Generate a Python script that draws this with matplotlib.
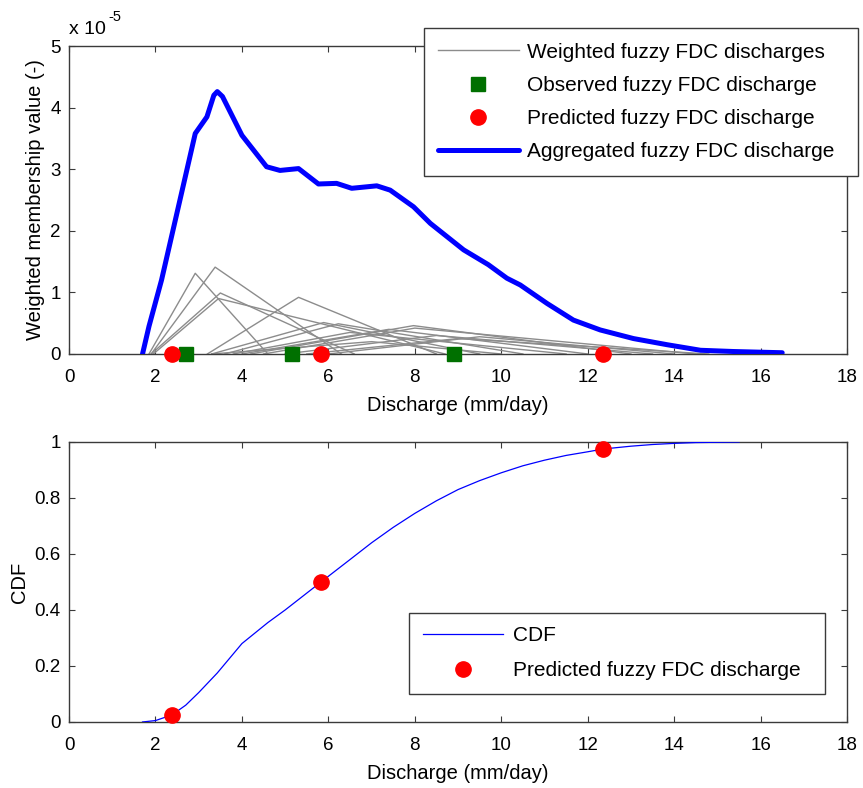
import matplotlib
matplotlib.use("Agg")
import matplotlib.pyplot as plt
from matplotlib.ticker import FuncFormatter, MultipleLocator

plt.rcParams['font.family'] = ['Liberation Sans', 'DejaVu Sans']

# ---- data (membership values in units of 1e-5) ----
agg_x = [1.70, 1.85, 2.14, 2.92, 3.19, 3.35, 3.43, 3.55, 4.00, 4.57, 4.88, 5.31, 5.77, 6.19,
         6.54, 7.12, 7.43, 7.97, 8.36, 9.13, 9.70, 10.13, 10.44, 11.06, 11.67, 12.29,
         13.06, 13.84, 14.61, 15.37, 16.50]
agg_y = [0.00, 0.45, 1.20, 3.58, 3.85, 4.20, 4.26, 4.18, 3.55, 3.04, 2.98, 3.01, 2.76, 2.77,
         2.69, 2.73, 2.66, 2.39, 2.12, 1.69, 1.45, 1.23, 1.12, 0.82, 0.55, 0.39,
         0.25, 0.15, 0.06, 0.04, 0.02]

tri_left = [1.85, 1.90, 1.90, 1.95, 3.20, 3.30, 3.60, 3.80, 4.00, 4.20, 4.50, 5.00, 5.50, 3.30, 6.00]
tri_peak = [2.92, 3.38, 3.50, 3.46, 5.31, 5.89, 6.23, 6.50, 7.40, 7.97, 8.00, 8.50, 9.00, 7.00, 9.50]
tri_right = [4.60, 6.30, 6.60, 8.70, 8.50, 9.50, 10.50, 11.50, 12.00, 13.00, 14.50, 13.50, 14.80, 10.00, 14.00]
tri_height = [1.31, 1.41, 0.99, 0.90, 0.92, 0.51, 0.49, 0.35, 0.40, 0.46, 0.42, 0.30, 0.25, 0.20, 0.28]

obs_x = [2.71, 5.16, 8.91]
pred_x = [2.38, 5.83, 12.36]
pred_cdf = [0.025, 0.50, 0.975]

cdf_x = [1.70, 2.00, 2.38, 2.70, 3.00, 3.43, 4.00, 4.60, 5.00, 5.83, 6.50, 7.00, 7.50,
         8.00, 8.50, 9.00, 9.50, 10.00, 10.50, 11.00, 11.50, 12.00, 12.36, 13.00,
         13.50, 14.00, 14.50, 15.00, 15.50]
cdf_y = [0.000, 0.005, 0.025, 0.060, 0.105, 0.175, 0.280, 0.355, 0.400, 0.500, 0.580,
         0.640, 0.695, 0.745, 0.790, 0.830, 0.862, 0.890, 0.915, 0.935, 0.952, 0.965,
         0.975, 0.985, 0.991, 0.995, 0.998, 0.999, 1.000]

SCALE = 1e-5
TICK_FS = 13.5
LABEL_FS = 14.5
LEG_FS = 15

fig = plt.figure(figsize=(8.63, 7.88), dpi=100)
ax1 = fig.add_axes([0.080, 0.5508, 0.9015, 0.3908])
ax2 = fig.add_axes([0.080, 0.0838, 0.9015, 0.3553])

axis_col = '#3a3a3a'
for ax in (ax1, ax2):
    for s in ax.spines.values():
        s.set_color(axis_col)
        s.set_linewidth(1.0)
    ax.tick_params(direction='in', length=4, width=0.8, color=axis_col,
                   top=True, right=True, labelsize=TICK_FS, pad=6)
    ax.tick_params(axis='x', pad=11)
    ax.set_xlim(0, 18)
    ax.xaxis.set_major_locator(MultipleLocator(2))
    ax.set_xlabel('Discharge (mm/day)', fontsize=LABEL_FS, labelpad=7)

# top panel
for i in range(len(tri_left)):
    ax1.plot([tri_left[i], tri_peak[i], tri_right[i]],
             [0, tri_height[i] * SCALE, 0], color='#8c8c8c', lw=1.0,
             label='Weighted fuzzy FDC discharges' if i == 0 else None, zorder=2)
ax1.plot(obs_x, [0] * len(obs_x), 's', color='#007000', ms=9.5, ls='none',
         label='Observed fuzzy FDC discharge', clip_on=False, zorder=5)
ax1.plot(pred_x, [0] * len(pred_x), 'o', color='#ff0000', ms=11, ls='none',
         label='Predicted fuzzy FDC discharge', clip_on=False, zorder=6)
ax1.plot(agg_x, [v * SCALE for v in agg_y], color='#0000ff', lw=3.6,
         label='Aggregated fuzzy FDC discharge', zorder=4,
         solid_joinstyle='round', solid_capstyle='round')
ax1.set_ylim(0, 5 * SCALE)
ax1.yaxis.set_major_locator(MultipleLocator(1 * SCALE))
ax1.yaxis.set_major_formatter(FuncFormatter(lambda v, p: f'{v / SCALE:.0f}'))
ax1.set_ylabel('Weighted membership value (-)', fontsize=LABEL_FS, labelpad=4)
fig.text(69 / 863, 1 - 34 / 788, 'x 10', fontsize=14, ha='left', va='baseline')
fig.text(108 / 863, 1 - 21 / 788, '-5', fontsize=10.5, ha='left', va='baseline')
leg1 = ax1.legend(loc='upper left', bbox_to_anchor=(0.491, 0.7817, 0.503, 0.1827),
                  bbox_transform=fig.transFigure, mode='expand', borderaxespad=0,
                  fontsize=LEG_FS, frameon=True, fancybox=False, framealpha=1,
                  edgecolor=axis_col, handlelength=3.85, handletextpad=0.4,
                  labelspacing=0.68, borderpad=0.7)
leg1.get_frame().set_linewidth(1.0)

# bottom panel
ax2.plot(cdf_x, cdf_y, color='#0000ff', lw=0.9, label='CDF', zorder=3)
ax2.plot(pred_x, pred_cdf, 'o', color='#ff0000', ms=11, ls='none',
         label='Predicted fuzzy FDC discharge', zorder=5, clip_on=False)
ax2.set_ylim(0, 1)
ax2.yaxis.set_major_locator(MultipleLocator(0.2))
ax2.yaxis.set_major_formatter(FuncFormatter(lambda v, p: f'{v:g}'))
ax2.set_ylabel('CDF', fontsize=LABEL_FS, labelpad=4)
leg2 = ax2.legend(loc='upper left', bbox_to_anchor=(0.474, 0.1269, 0.482, 0.0955),
                  bbox_transform=fig.transFigure, mode='expand', borderaxespad=0,
                  fontsize=LEG_FS, frameon=True, fancybox=False, framealpha=1,
                  edgecolor=axis_col, handlelength=3.85, handletextpad=0.5,
                  labelspacing=0.76, borderpad=0.65)
leg2.get_frame().set_linewidth(1.0)

fig.savefig('out.png', dpi=100)
